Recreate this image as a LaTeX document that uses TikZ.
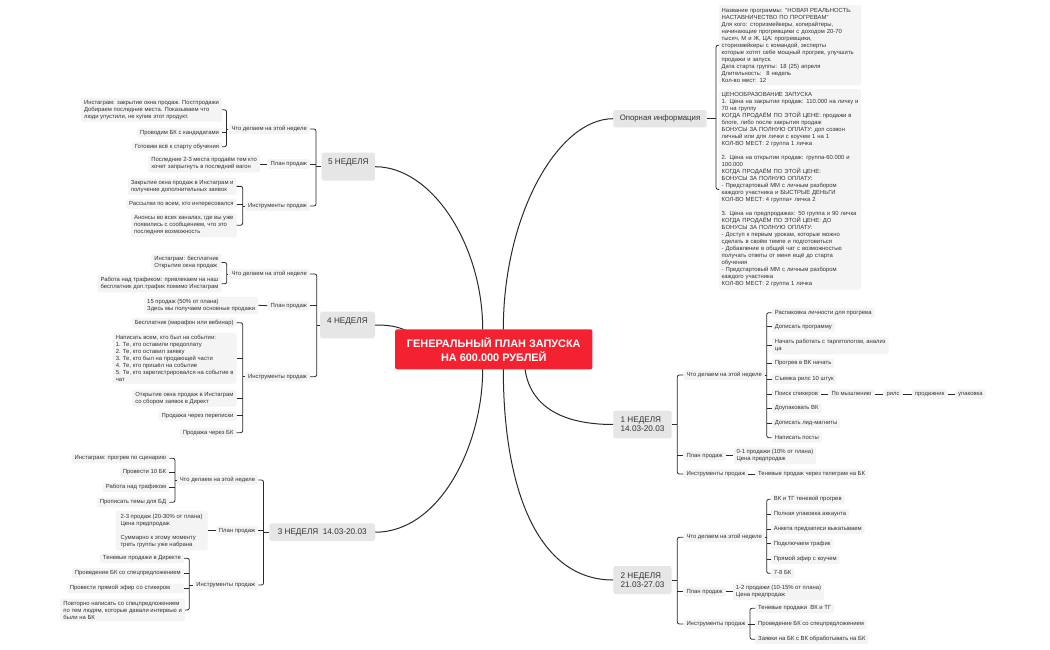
\documentclass[tikz,border=0pt]{standalone}
\usepackage{fontspec}
\setmainfont{Liberation Sans}
\definecolor{rootred}{HTML}{F42230}
\definecolor{weekgray}{HTML}{E6E6E6}
\definecolor{leafgray}{HTML}{F4F4F4}
\definecolor{txt}{HTML}{333333}
\definecolor{linec}{HTML}{2A2A2A}
\tikzset{
  root/.style={fill=rootred, rounded corners=2pt, text=white, font=\bfseries\fontsize{10.9}{14.3}\selectfont, align=center, minimum width=197.3pt, minimum height=40pt, inner sep=0pt},
  week/.style={fill=weekgray, rounded corners=2.5pt, text=txt, font=\fontsize{8.2}{9.4}\selectfont, align=left, inner sep=0pt},
  sub/.style={fill=leafgray, rounded corners=2pt, text=txt, font=\fontsize{5.9}{7}\selectfont, inner xsep=3pt, inner ysep=2pt, text height=4.3pt, text depth=1.3pt},
  leafm/.style={fill=leafgray, rounded corners=2pt, text=txt, font=\fontsize{5.9}{7}\selectfont, align=left, inner xsep=3pt, inner ysep=2.2pt},
  conn/.style={draw=linec, line width=1pt},
  br/.style={draw=linec, line width=0.8pt, rounded corners=2pt},
}
\begin{document}
\begin{tikzpicture}[x=1pt,y=-1pt]
\useasboundingbox[fill=white] (0,0) rectangle (1050,650);

% ---------- attach points on root ----------
\coordinate (rt5) at (482.7,329.5);
\coordinate (rt4) at (412,334);
\coordinate (rt3) at (482.7,369);
\coordinate (rto) at (503.3,329.5);
\coordinate (rt1) at (525,369);
\coordinate (rt2) at (503.3,369);

% ---------- week nodes ----------
\node[week, minimum width=53.3pt, minimum height=28pt, text height=6pt, text depth=10pt] (w5) at (348.3,166.7) {5 НЕДЕЛЯ};
\node[week, minimum width=55pt, minimum height=26.6pt, text height=6pt, text depth=10pt] (w4) at (347.5,325) {4 НЕДЕЛЯ};
\node[week, minimum width=105.7pt, minimum height=17.7pt] (w3) at (322.2,532.2) {3 НЕДЕЛЯ~~14.03-20.03};
\node[week, minimum width=93.4pt, minimum height=17.3pt, font=\fontsize{7.8}{9}\selectfont] (op) at (660,118.7) {Опорная информация};
\node[week, minimum width=58.4pt, minimum height=27.6pt] (w1) at (642.5,424.5) {1 НЕДЕЛЯ\\14.03-20.03};
\node[week, minimum width=58.4pt, minimum height=28pt] (w2) at (642.5,580) {2 НЕДЕЛЯ\\21.03-27.03};

% ---------- main connectors ----------
\draw[conn] (w5.east) .. controls (432,166.7) and (482.7,245) .. (rt5);
\draw[conn] (w4.east) .. controls (395,325) and (402,328) .. (rt4);
\draw[conn] (w3.east) .. controls (440,532.2) and (482.7,445) .. (rt3);
\draw[conn] (op.west) .. controls (558,118.7) and (503.3,215) .. (rto);
\draw[conn] (w1.west) .. controls (560,424.5) and (530,405) .. (rt1);
\draw[conn] (w2.west) .. controls (538,580) and (503.3,490) .. (rt2);

\node[root] (root) at (493.8,349.3) {ГЕНЕРАЛЬНЫЙ ПЛАН ЗАПУСКА\\НА 600.000 РУБЛЕЙ};

% ================= 5 НЕДЕЛЯ =================
\coordinate (b5) at (316,0);
\node[sub, anchor=east] (w5a) at (310,129) {Что делаем на этой неделе};
\node[sub, anchor=east] (w5b) at (310,164) {План продаж};
\node[sub, anchor=east] (w5c) at (310,206) {Инструменты продаж};
\draw[br] (w5a.east) -- (w5a.east -| b5) |- (w5c.east);
\draw[br] (w5b.east) -- (w5b.east -| b5);
\draw[br] (w5.west) -- (w5.west -| b5);

\coordinate (b5a) at (226.5,0);
\node[leafm, anchor=east] (w5a1) at (222.2,109.8) {Инстаграм: закрытие окна продаж. Постпродажи\\Добираем последние места. Показываем что\\люди упустили, не купив этот продукт.};
\node[sub, anchor=east] (w5a2) at (222.2,132.7) {Проводим БК с кандидатами};
\node[sub, anchor=east] (w5a3) at (222.2,146.7) {Готовим всё к старту обучения};
\draw[br] (w5a1.east) -- (w5a1.east -| b5a) |- (w5a3.east);
\draw[br] (w5a2.east) -- (w5a2.east -| b5a);
\draw[br] (w5a.west) -- (w5a.west -| b5a);

\node[leafm, anchor=east] (w5b1) at (260,164) {Последние 2-3 места продаём тем кто\\хочет запрыгнуть в последний вагон};
\draw[br] (w5b1.east) -- (w5b.west);

\coordinate (b5c) at (242.7,0);
\node[leafm, anchor=east] (w5c1) at (236.7,186.4) {Закрытие окна продаж в Инстаграм и\\получение дополнительных заявок};
\node[sub, anchor=east] (w5c2) at (236.7,204) {Рассылки по всем, кто интересовался};
\node[leafm, anchor=east] (w5c3) at (236.7,225.2) {Анонсы во всех каналах, где вы уже\\появились с сообщением, что это\\последняя возможность};
\draw[br] (w5c1.east) -- (w5c1.east -| b5c) |- (w5c3.east);
\draw[br] (w5c2.east) -- (w5c2.east -| b5c);
\draw[br] (w5c.west) -- (w5c.west -| b5c);

% ================= 4 НЕДЕЛЯ =================
\coordinate (b4) at (316.7,0);
\node[sub, anchor=east] (w4a) at (310,274) {Что делаем на этой неделе};
\node[sub, anchor=east] (w4b) at (310,305.7) {План продаж};
\node[sub, anchor=east] (w4c) at (310,376.7) {Инструменты продаж};
\draw[br] (w4a.east) -- (w4a.east -| b4) |- (w4c.east);
\draw[br] (w4b.east) -- (w4b.east -| b4);
\draw[br] (w4.west) -- (w4.west -| b4);

\coordinate (b4a) at (226.7,0);
\node[leafm, anchor=east] (w4a1) at (221.7,262.5) {Инстаграм: бесплатник\\Открытие окна продаж};
\node[leafm, anchor=east] (w4a2) at (221.7,283.8) {Работа над трафиком: привлекаем на наш\\бесплатник доп.трафик помимо Инстаграм};
\draw[br] (w4a1.east) -- (w4a1.east -| b4a) |- (w4a2.east);
\draw[br] (w4a.west) -- (w4a.west -| b4a);

\node[leafm, anchor=east] (w4b1) at (258.3,305.3) {15 продаж (50\% от плана)\\Здесь мы получаем основные продажи};
\draw[br] (w4b1.east) -- (w4b.west);

\coordinate (b4c) at (242.7,0);
\node[sub, anchor=east] (w4c1) at (236.7,322.7) {Бесплатник (марафон или вебинар)};
\node[leafm, anchor=east] (w4c2) at (236.7,358.3) {Написать всем, кто был на событии:\\1. Те, кто оставили предоплату\\2. Те, кто оставил заявку\\3. Те, кто был на продающей части\\4. Те, кто пришёл на событие\\5. Те, кто зарегистрировался на событие в\\чат};
\node[leafm, anchor=east] (w4c3) at (236.7,398.3) {Открытие окна продаж в Инстаграм\\со сбором заявок в Директ};
\node[sub, anchor=east] (w4c4) at (236.7,415.7) {Продажа через переписки};
\node[sub, anchor=east] (w4c5) at (236.7,432.7) {Продажа через БК};
\draw[br] (w4c1.east) -- (w4c1.east -| b4c) |- (w4c5.east);
\draw[br] (w4c2.east) -- (w4c2.east -| b4c);
\draw[br] (w4c3.east) -- (w4c3.east -| b4c);
\draw[br] (w4c4.east) -- (w4c4.east -| b4c);
\draw[br] (w4c.west) -- (w4c.west -| b4c);

% ================= 3 НЕДЕЛЯ =================
\coordinate (b3) at (263.5,0);
\node[sub, anchor=east] (w3a) at (258.3,480) {Что делаем на этой неделе};
\node[sub, anchor=east] (w3b) at (258.3,530.7) {План продаж};
\node[sub, anchor=east] (w3c) at (258.3,585) {Инструменты продаж};
\draw[br] (w3a.east) -- (w3a.east -| b3) |- (w3c.east);
\draw[br] (w3b.east) -- (w3b.east -| b3);
\draw[br] (w3.west) -- (w3.west -| b3);

\coordinate (b3a) at (175,0);
\node[sub, anchor=east] (w3a1) at (169.3,458.3) {Инстаграм: прогрев по сценарию};
\node[sub, anchor=east] (w3a2) at (169.3,472.3) {Провести 10 БК};
\node[sub, anchor=east] (w3a3) at (169.3,487.3) {Работа над трафиком};
\node[sub, anchor=east] (w3a4) at (169.3,502.3) {Прописать темы для БД};
\draw[br] (w3a1.east) -- (w3a1.east -| b3a) |- (w3a4.east);
\draw[br] (w3a2.east) -- (w3a2.east -| b3a);
\draw[br] (w3a3.east) -- (w3a3.east -| b3a);
\draw[br] (w3a.west) -- (w3a.west -| b3a);

\node[leafm, anchor=east, inner xsep=5pt, inner ysep=3pt] (w3b1) at (207.7,530.7) {2-3 продаж (20-30\% от плана)\\Цена предпродаж\\[7pt]Суммарно к этому моменту\\треть группы уже набрана};
\draw[br] (w3b1.east) -- (w3b.west);

\coordinate (b3c) at (189.3,0);
\node[sub, anchor=east] (w3c1) at (184,558.3) {Теневые продажи в Директе};
\node[sub, anchor=east] (w3c2) at (184,573) {Проведение БК со спецпредложением};
\node[sub, anchor=east, text width=111pt, align=left] (w3c3) at (184,588.3) {Провести прямой эфир со стикером};
\node[leafm, anchor=east] (w3c4) at (185,610) {Повторно написать со спецпредложением\\по тем людям, которые давали интервью и\\были на БК};
\draw[br] (w3c1.east) -- (w3c1.east -| b3c) |- (w3c4.east);
\draw[br] (w3c2.east) -- (w3c2.east -| b3c);
\draw[br] (w3c3.east) -- (w3c3.east -| b3c);
\draw[br] (w3c.west) -- (w3c.west -| b3c);

% ================= Опорная информация =================
\coordinate (bo) at (716,0);
\node[leafm, anchor=north west, text width=137pt, inner xsep=2.5pt, inner ysep=3pt] (info1) at (719,5) {Название программы: "НОВАЯ РЕАЛЬНОСТЬ.\\НАСТАВНИЧЕСТВО ПО ПРОГРЕВАМ"\\Для кого: сторизмейкеры, копирайтеры,\\начинающие прогревщики с доходом 20-70\\тысяч, М и Ж, ЦА: прогревщики,\\сторизмейкеры с командой, эксперты\\которые хотят себе мощный прогрев, улучшить\\продажи и запуск.\\Дата старта группы: 18 (25) апреля\\Длительность:~ 8 недель\\Кол-во мест: 12};
\node[leafm, anchor=north west, text width=137pt, inner xsep=2.5pt, inner ysep=3pt] (info2) at (719,89) {ЦЕНООБРАЗОВАНИЕ ЗАПУСКА\\1. Цена на закрытии продаж: 110.000 на личку и\\70 на группу\\КОГДА ПРОДАЁМ ПО ЭТОЙ ЦЕНЕ: продажи в\\блоге, либо после закрытия продаж\\БОНУСЫ ЗА ПОЛНУЮ ОПЛАТУ: доп созвон\\личный или для лички с коучем 1 на 1\\КОЛ-ВО МЕСТ: 2 группа 1 личка\\[7pt]2. Цена на открытии продаж: группа-60.000 и\\100.000\\КОГДА ПРОДАЁМ ПО ЭТОЙ ЦЕНЕ:\\БОНУСЫ ЗА ПОЛНУЮ ОПЛАТУ:\\- Предстартовый ММ с личным разбором\\каждого участника и БЫСТРЫЕ ДЕНЬГИ\\КОЛ-ВО МЕСТ: 4 группа+ личка 2\\[7pt]3. Цена на предпродажах: 50 группа и 90 личка\\КОГДА ПРОДАЁМ ПО ЭТОЙ ЦЕНЕ: ДО\\БОНУСЫ ЗА ПОЛНУЮ ОПЛАТУ:\\- Доступ к первым урокам, которые можно\\сделать в своём темпе и подготовиться\\- Добавление в общий чат с возможностью\\получать ответы от меня ещё до старта\\обучения\\- Предстартовый ММ с личным разбором\\каждого участника\\КОЛ-ВО МЕСТ: 2 группа 1 личка};
\draw[br] (info1.west) -- (info1.west -| bo) |- (info2.west);
\draw[br] (op.east) -- (op.east -| bo);

% ================= 1 НЕДЕЛЯ =================
\coordinate (b1) at (677.3,0);
\node[sub, anchor=west] (w1a) at (683.3,375) {Что делаем на этой неделе};
\node[sub, anchor=west] (w1b) at (683.3,455.7) {План продаж};
\node[sub, anchor=west] (w1c) at (683.3,474) {Инструменты продаж};
\draw[br] (w1a.west) -- (w1a.west -| b1) |- (w1c.west);
\draw[br] (w1b.west) -- (w1b.west -| b1);
\draw[br] (w1.east) -- (w1.east -| b1);

\coordinate (b1a) at (766.7,0);
\node[sub, anchor=west] (w1a1) at (771.7,312.7) {Распаковка личности для прогрева};
\node[sub, anchor=west] (w1a2) at (771.7,326.7) {Дописать программу};
\node[leafm, anchor=west] (w1a3) at (771.7,345.8) {Начать работать с таргетологом, анализ\\ца};
\node[sub, anchor=west] (w1a4) at (771.7,363.3) {Прогрев в ВК начать};
\node[sub, anchor=west] (w1a5) at (771.7,379) {Съемка рилс 10 штук};
\node[sub, anchor=west] (w1a6) at (771.7,394) {Поиск спикеров};
\node[sub, anchor=west] (w1a7) at (771.7,408.3) {Доупаковать ВК};
\node[sub, anchor=west] (w1a8) at (771.7,423.3) {Дописать лид-магниты};
\node[sub, anchor=west] (w1a9) at (771.7,437.7) {Написать посты};
\draw[br] (w1a1.west) -- (w1a1.west -| b1a) |- (w1a9.west);
\foreach \n in {w1a2,w1a3,w1a4,w1a5,w1a6,w1a7,w1a8}
  \draw[br] (\n.west) -- (\n.west -| b1a);
\draw[br] (w1a.east) -- (w1a.east -| b1a);

\node[sub, anchor=west] (w1a6b) at (828.3,394) {По мышлению};
\node[sub, anchor=west] (w1a6c) at (883.3,394) {рилс};
\node[sub, anchor=west] (w1a6d) at (911.7,394) {продажник};
\node[sub, anchor=west] (w1a6e) at (955,394) {упаковка};
\draw[br] (w1a6.east) -- (w1a6b.west);
\draw[br] (w1a6b.east) -- (w1a6c.west);
\draw[br] (w1a6c.east) -- (w1a6d.west);
\draw[br] (w1a6d.east) -- (w1a6e.west);

\node[leafm, anchor=west] (w1b1) at (733.3,455.7) {0-1 продажи (10\% от плана)\\Цена предпродаж};
\draw[br] (w1b.east) -- (w1b1.west);
\node[sub, anchor=west] (w1c1) at (755,474) {Теневые продаж через телеграм на БК};
\draw[br] (w1c.east) -- (w1c1.west);

% ================= 2 НЕДЕЛЯ =================
\coordinate (b2) at (677.3,0);
\node[sub, anchor=west] (w2a) at (683.3,537.3) {Что делаем на этой неделе};
\node[sub, anchor=west] (w2b) at (683.3,591.7) {План продаж};
\node[sub, anchor=west] (w2c) at (683.3,624) {Инструменты продаж};
\draw[br] (w2a.west) -- (w2a.west -| b2) |- (w2c.west);
\draw[br] (w2b.west) -- (w2b.west -| b2);
\draw[br] (w2.east) -- (w2.east -| b2);

\coordinate (b2a) at (766.7,0);
\node[sub, anchor=west] (w2a1) at (770.7,499.3) {ВК и ТГ теневой прогрев};
\node[sub, anchor=west] (w2a2) at (770.7,514) {Полная упаковка аккаунта};
\node[sub, anchor=west] (w2a3) at (770.7,529) {Анкета предзаписи выкатываем};
\node[sub, anchor=west] (w2a4) at (770.7,543.7) {Подключаем трафик};
\node[sub, anchor=west] (w2a5) at (770.7,559) {Прямой эфир с коучем};
\node[sub, anchor=west] (w2a6) at (770.7,573.3) {7-8 БК};
\draw[br] (w2a1.west) -- (w2a1.west -| b2a) |- (w2a6.west);
\foreach \n in {w2a2,w2a3,w2a4,w2a5}
  \draw[br] (\n.west) -- (\n.west -| b2a);
\draw[br] (w2a.east) -- (w2a.east -| b2a);

\node[leafm, anchor=west] (w2b1) at (732.7,591.7) {1-2 продажи (10-15\% от плана)\\Цена предпродаж};
\draw[br] (w2b.east) -- (w2b1.west);

\coordinate (b2c) at (750,0);
\node[sub, anchor=west] (w2c1) at (755,608.3) {Теневые продажи~~ВК и ТГ};
\node[sub, anchor=west] (w2c2) at (755,624.3) {Проведение БК со спецпредложением};
\node[sub, anchor=west] (w2c3) at (755,639.3) {Заявки на БК с ВК обработывать на БК};
\draw[br] (w2c1.west) -- (w2c1.west -| b2c) |- (w2c3.west);
\draw[br] (w2c2.west) -- (w2c2.west -| b2c);
\draw[br] (w2c.east) -- (w2c.east -| b2c);
\end{tikzpicture}
\end{document}
